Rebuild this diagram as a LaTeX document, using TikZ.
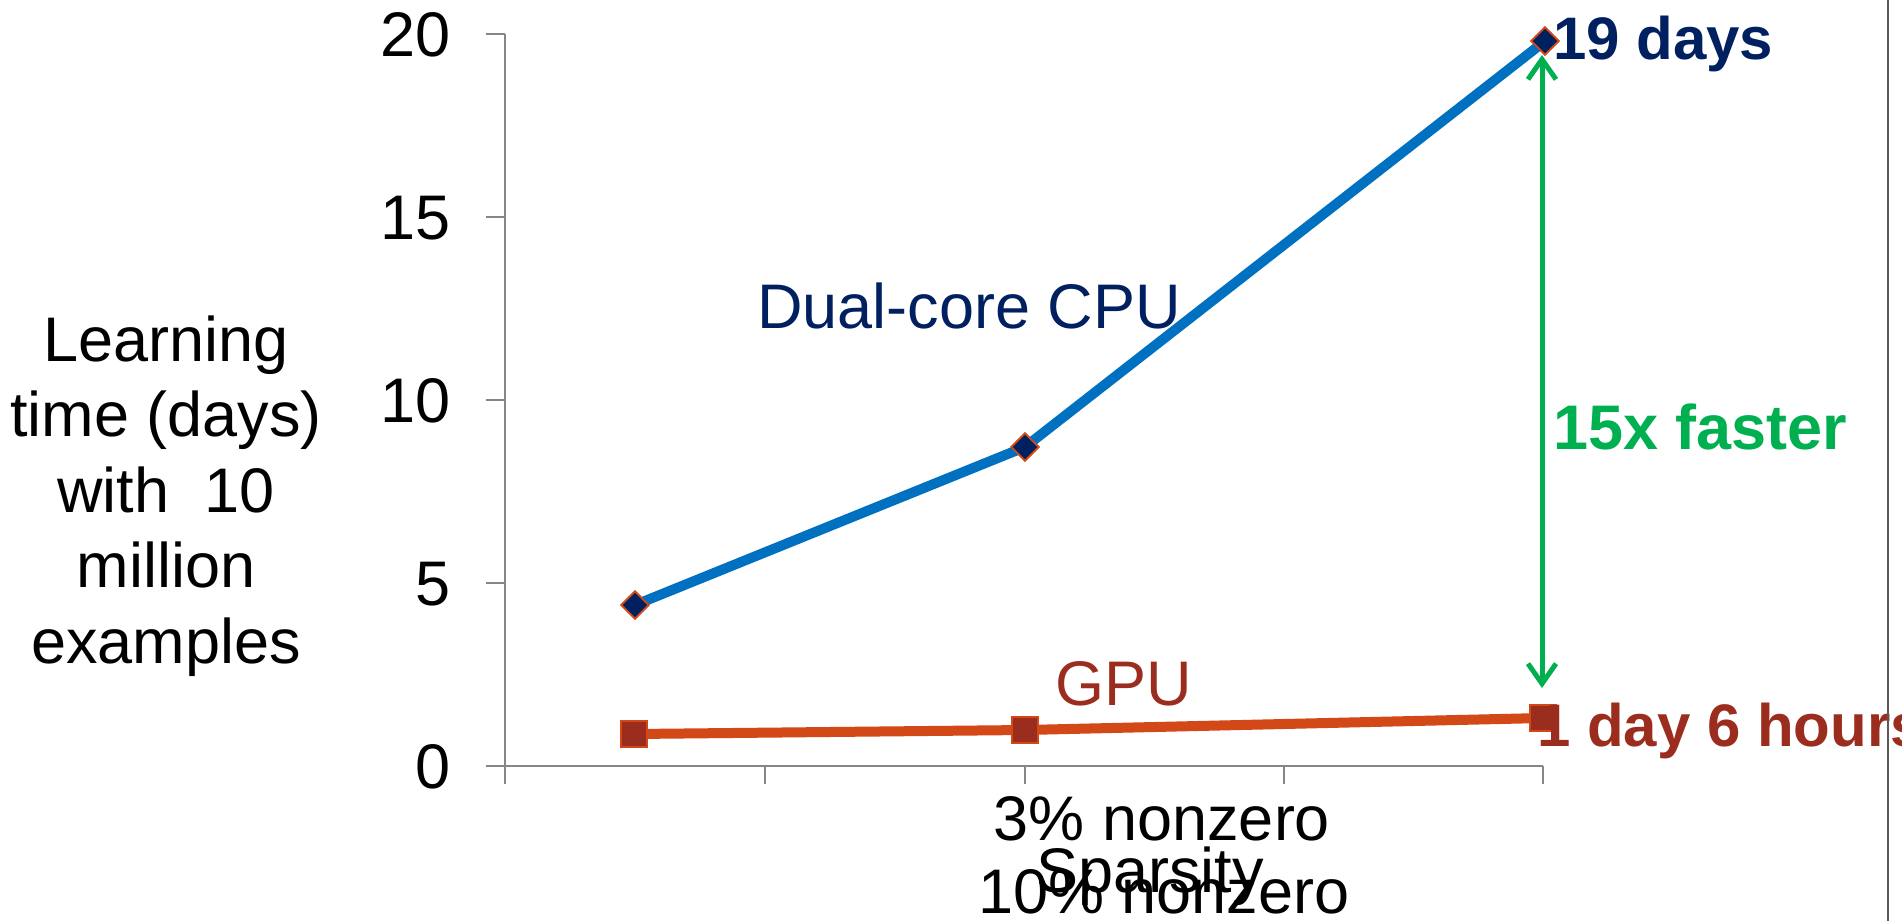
\documentclass[tikz,border=0pt]{standalone}
\usepackage{fontspec}
\setmainfont{Liberation Sans}
\usetikzlibrary{shapes.geometric,arrows.meta}

\definecolor{axisgray}{HTML}{868686}
\definecolor{framegray}{HTML}{595959}
\definecolor{cpublue}{HTML}{0070C0}
\definecolor{navy}{HTML}{002060}
\definecolor{gpuorange}{HTML}{D34817}
\definecolor{brick}{HTML}{9B2D1F}
\definecolor{fastgreen}{HTML}{00B050}

\newcommand\chartfont{\fontsize{63}{75.5}\selectfont}
\newcommand\callfont{\fontsize{60}{72}\selectfont\bfseries}

\tikzset{
  axisline/.style={draw=axisgray, line width=2pt},
  ticklabel/.style={font=\chartfont, inner sep=0pt, anchor=base east},
  catlabel/.style={font=\chartfont, inner sep=0pt, anchor=base},
  cpuline/.style={draw=cpublue, line width=10pt, line join=round},
  gpuline/.style={draw=gpuorange, line width=10pt, line join=round},
  cpumark/.style={diamond, aspect=1, inner sep=0pt, minimum width=28pt,
    minimum height=28pt, fill=navy, draw=gpuorange, line width=1.8pt},
  gpumark/.style={rectangle, inner sep=0pt, minimum size=26pt,
    fill=brick, draw=gpuorange, line width=1.8pt},
  serieslabel/.style={font=\chartfont, inner sep=0pt, anchor=base west},
  callout/.style={font=\callfont, inner sep=0pt, anchor=base west},
  gap/.style={draw=fastgreen, line width=5pt,
    {Straight Barb[length=20pt, width=28pt, line width=5pt]}-{Straight Barb[length=20pt, width=28pt, line width=5pt]}}
}

\begin{document}
\begin{tikzpicture}[x=1pt, y=-1pt]
\useasboundingbox (0,0) rectangle (1902,921);
\clip (0,0) rectangle (1902,921);

% value axis with ticks
\draw[axisline] (505,34) -- (505,784);
\foreach \yy in {34,217,400,583,766}
  \draw[axisline] (486,\yy) -- (505,\yy);
% category axis with ticks
\draw[axisline] (486,766) -- (1543,766);
\foreach \xx in {765,1025,1284,1543}
  \draw[axisline] (\xx,766) -- (\xx,784);

% tick labels
\node[ticklabel] (t20) at (451,56) {20};
\node[ticklabel] (t15) at (451,239) {15};
\node[ticklabel] (t10) at (451,422) {10};
\node[ticklabel] (t5)  at (451,605) {5};
\node[ticklabel] (t0)  at (451,788) {0};

% axis titles (the base anchor sits on the last line)
\node[font=\chartfont, inner sep=0pt, align=center, anchor=base] (ytitle) at (166,663)
  {Learning\\time (days)\\with\ \ 10\\million\\examples};
\node[catlabel] (cat3) at (1162,840) {3\% nonzero};
\node[catlabel] (xtitle) at (1150,892) {Sparsity};
\node[catlabel] (cat10) at (1164,913) {10\% nonzero};

% data points (placed first so the lines can join their centres)
\node[cpumark] (c1) at (635,605) {};
\node[cpumark] (c2) at (1025,447) {};
\node[cpumark] (c3) at (1545,41) {};
\node[gpumark] (g1) at (634,734) {};
\node[gpumark] (g2) at (1025,730) {};
\node[gpumark] (g3) at (1543,718) {};

% series lines, then the markers again on top of them
\draw[cpuline] (c1.center) -- (c2.center) -- (c3.center);
\draw[gpuline] (g1.center) -- (g2.center) -- (g3.center);
\foreach \n in {c1,c2,c3}
  \node[cpumark] at (\n) {};
\foreach \n in {g1,g2,g3}
  \node[gpumark] at (\n) {};

% series labels
\node[serieslabel, text=navy] (cpulbl) at (757,328) {Dual-core CPU};
\node[serieslabel, text=brick] (gpulbl) at (1055,705) {GPU};

% speed-up marker
\coordinate (gaptop) at (1542,55);
\coordinate (gapbot) at (1542,688);
\draw[gap] (gaptop) -- (gapbot);
\node[font=\fontsize{63}{75}\selectfont\bfseries, inner sep=0pt, anchor=base west,
  text=fastgreen] (speed) at (1553,449) {15x faster};

% end-point callouts
\node[callout, text=navy] (cpuend) at (1553,59) {19 days};
\node[callout, text=brick] (gpuend) at (1537,746) {1 day 6 hours};

% frame edge on the right
\draw[draw=framegray, line width=2.5pt] (1888,0) -- (1888,921);
\end{tikzpicture}
\end{document}
